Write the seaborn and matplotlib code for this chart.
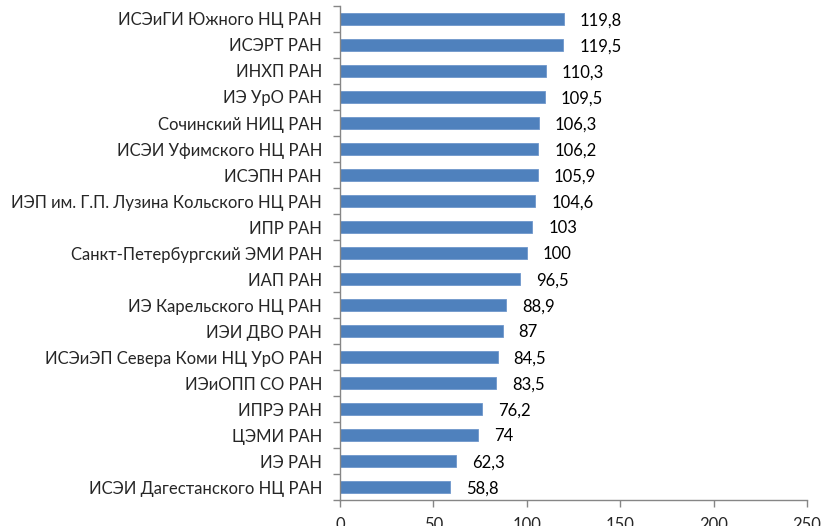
import numpy as np
import pandas as pd
import matplotlib
matplotlib.use("Agg")
import matplotlib.pyplot as plt
import seaborn as sns

institutes = [
    "ИСЭиГИ Южного НЦ РАН",
    "ИСЭРТ РАН",
    "ИНХП РАН",
    "ИЭ УрО РАН",
    "Сочинский НИЦ РАН",
    "ИСЭИ Уфимского НЦ РАН",
    "ИСЭПН РАН",
    "ИЭП им. Г.П. Лузина Кольского НЦ РАН",
    "ИПР РАН",
    "Санкт-Петербургский ЭМИ РАН",
    "ИАП РАН",
    "ИЭ Карельского НЦ РАН",
    "ИЭИ ДВО РАН",
    "ИСЭиЭП Севера Коми НЦ УрО РАН",
    "ИЭиОПП СО РАН",
    "ИПРЭ РАН",
    "ЦЭМИ РАН",
    "ИЭ РАН",
    "ИСЭИ Дагестанского НЦ РАН",
]
values = [119.8, 119.5, 110.3, 109.5, 106.3, 106.2, 105.9, 104.6, 103, 100,
          96.5, 88.9, 87, 84.5, 83.5, 76.2, 74, 62.3, 58.8]
x_ticks = [0, 50, 100, 150, 200, 250]

df = pd.DataFrame({"institute": institutes, "value": values})

sns.set_style("white")
plt.rcParams["font.family"] = ["Lato", "DejaVu Sans"]
fs = 12

fig = plt.figure(figsize=(8.24, 5.26), dpi=100)
ax = fig.add_axes([0.4126, 0.0494, 0.5668, 0.9392])

sns.barplot(data=df, x="value", y="institute", orient="h", color="#4F81BD",
            width=0.46, edgecolor="#6F97CC", linewidth=0.6, saturation=1, ax=ax)

for i, v in enumerate(values):
    label = f"{v:g}".replace(".", ",")
    ax.text(v + 8.5, i + 0.05, label, va="center", ha="left", fontsize=fs, color="black")

ax.set_xlim(0, 250)
ax.set_ylim(len(institutes) - 0.5, -0.5)
ax.set_xticks(x_ticks)
ax.set_xlabel("")
ax.set_ylabel("")

# category ticks sit between bars, like the original chart
ax.set_yticks(np.arange(-0.5, len(institutes)), minor=True)
ax.tick_params(axis="y", which="major", length=0, pad=13, labelsize=fs)
ax.tick_params(axis="y", which="minor", length=5, color="#868686", width=1, direction="out", left=True)
ax.tick_params(axis="x", which="major", length=5, color="#868686", width=1, direction="out",
               bottom=True, pad=7, labelsize=fs)

for side in ["top", "right"]:
    ax.spines[side].set_visible(False)
for side in ["left", "bottom"]:
    ax.spines[side].set_color("#868686")
    ax.spines[side].set_linewidth(1)

fig.savefig("out.png", dpi=100)
